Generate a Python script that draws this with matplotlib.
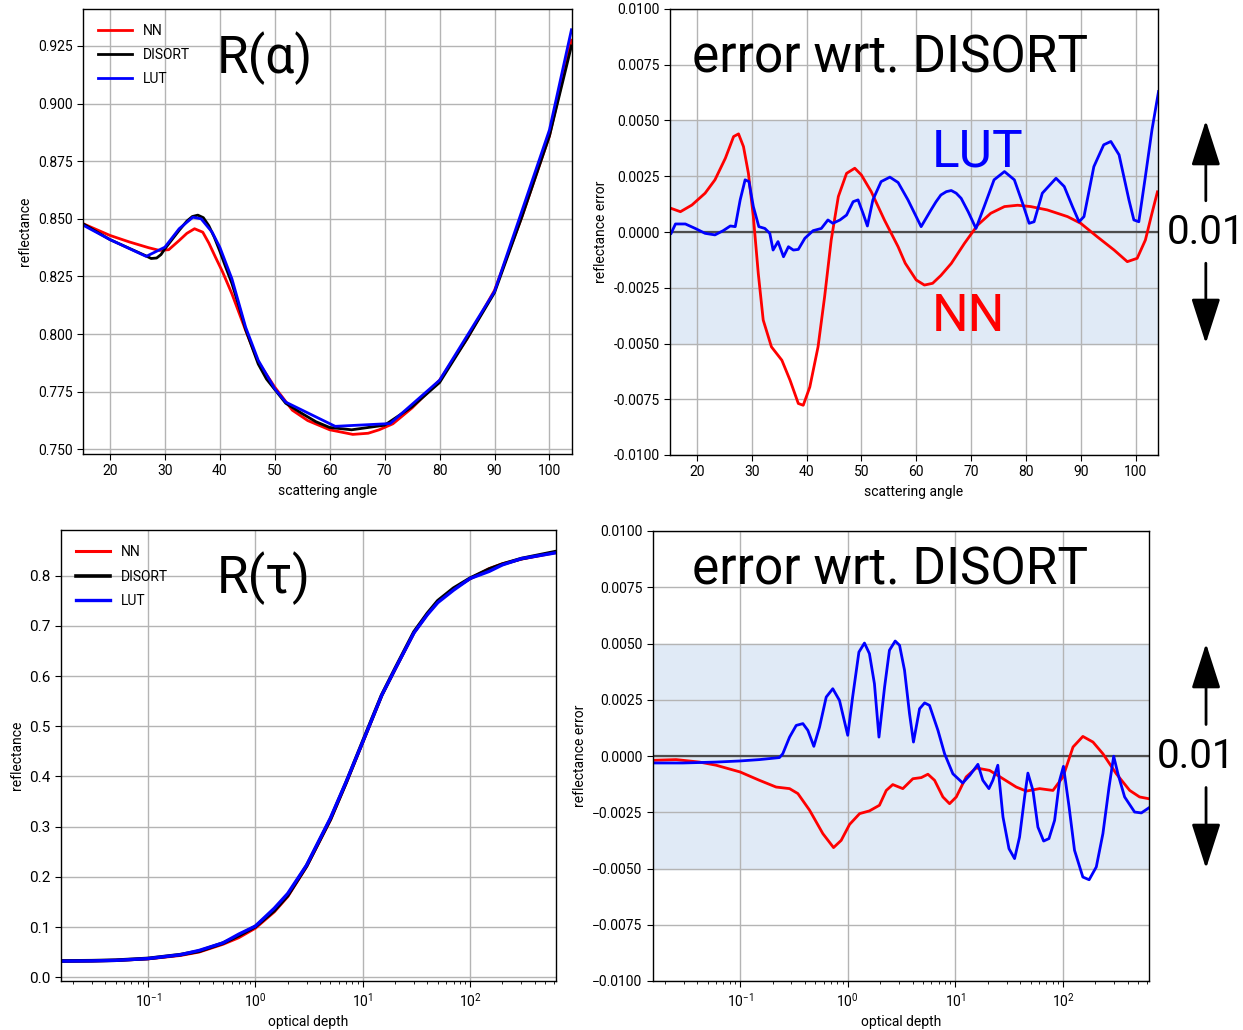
import numpy as np
import matplotlib
matplotlib.use("Agg")
import matplotlib.pyplot as plt
from matplotlib.ticker import FormatStrFormatter, MultipleLocator

plt.rcParams['font.family'] = ['Roboto', 'DejaVu Sans']
plt.rcParams['font.size'] = 10

# --- R(alpha): reflectance vs scattering angle ---
alpha_disort = [15, 20, 26.5, 27.5, 28.5, 29.3, 30, 31.3, 32.6, 34, 35, 36, 37, 38, 39, 40,
                41, 42.2, 43.5, 44.7, 46, 47, 48.5, 50, 52, 55, 57.5, 60, 64, 70, 75, 80, 85,
                90, 95, 100, 104]
r_disort = [0.848, 0.841, 0.834, 0.8328, 0.833, 0.8345, 0.837, 0.841, 0.845, 0.849, 0.851,
            0.8516, 0.8505, 0.847, 0.842, 0.836, 0.8295, 0.822, 0.812, 0.802, 0.7935, 0.787,
            0.7805, 0.776, 0.770, 0.7655, 0.762, 0.7595, 0.7585, 0.7605, 0.7685, 0.779,
            0.798, 0.818, 0.851, 0.886, 0.925]

alpha_nn = [15, 20, 23.5, 27, 29, 30.7, 32.6, 34, 35.4, 36.9, 38, 39.2, 40.5, 42.2, 44.7, 47,
            50, 53.2, 56, 60, 64.2, 67, 69, 71.5, 75, 80, 85, 90, 95, 100, 104]
r_nn = [0.848, 0.8428, 0.840, 0.8375, 0.8363, 0.8366, 0.8406, 0.8437, 0.8457, 0.8442, 0.8395,
        0.8334, 0.827, 0.8175, 0.8016, 0.7879, 0.777, 0.767, 0.7625, 0.7585, 0.7565, 0.757,
        0.7585, 0.7611, 0.768, 0.780, 0.798, 0.819, 0.851, 0.886, 0.9275]

alpha_lut = [15, 20, 26.6, 30, 32.6, 35.1, 36.6, 38.6, 40, 42.2, 44.7, 47, 50, 52, 61, 71,
             80, 90, 100, 104]
r_lut = [0.8474, 0.841, 0.8337, 0.8377, 0.8457, 0.8507, 0.850, 0.8442, 0.8377, 0.824, 0.803,
         0.7886, 0.7763, 0.7705, 0.7600, 0.7612, 0.780, 0.8185, 0.8886, 0.932]

# --- error wrt. DISORT vs scattering angle ---
alpha_err_nn = [15.3, 17, 19.1, 21.5, 23.3, 25.2, 26.7, 27.6, 28.5, 29.4, 30.3, 31.2, 32.1,
                33.6, 35.5, 37, 38.5, 39.4, 40.6, 42.1, 43.3, 44.5, 45.8, 47.3, 48.8, 50,
                51.8, 54.2, 56.7, 58, 60, 61.5, 63, 64.5, 66.4, 68.8, 71.2, 73.6, 76.1, 78.5,
                80.9, 83.9, 87.6, 90, 93, 96.1, 98.5, 100.3, 101.8, 103, 104]
err_alpha_nn = [0.00106, 0.00091, 0.00121, 0.00174, 0.00234, 0.00331, 0.00428, 0.0044,
                0.00383, 0.00263, 0.00069, -0.00186, -0.00395, -0.00515, -0.00575, -0.00665,
                -0.00769, -0.00777, -0.00695, -0.00515, -0.0029, -0.00036, 0.00159, 0.00263,
                0.00286, 0.00256, 0.00181, 0.00054, -0.00066, -0.0014, -0.00215, -0.00238,
                -0.0023, -0.00195, -0.00141, -0.00051, 0.00031, 0.00084, 0.00114, 0.0012,
                0.00114, 0.00099, 0.00069, 0.00039, -0.00021, -0.00081, -0.00133, -0.00118,
                -0.00036, 0.00084, 0.0018]

alpha_err_lut = [15.3, 16.1, 17.9, 19.7, 21.5, 23.3, 24.8, 26.1, 27, 27.9, 28.8, 29.5, 30.3,
                 31.3, 32.4, 33.3, 33.9, 34.8, 35.8, 36.7, 37.6, 38.5, 39.7, 41.2, 42.7, 43.9,
                 44.8, 46.1, 47.3, 48.5, 49.4, 50.3, 51.1, 52.1, 53.6, 55.2, 56.7, 58.5, 60.9,
                 62.7, 63.6, 64.5, 65.5, 66.4, 67.3, 68.2, 69.5, 70.9, 72.4, 74.2, 76.1, 77.9,
                 79.4, 80.6, 81.5, 83, 85.5, 87, 88.5, 89.7, 90.6, 92.4, 94.2, 95.5, 97, 98.8,
                 99.7, 100.6, 101.8, 103, 104.2]
err_alpha_lut = [-0.00006, 0.00036, 0.00036, 0.00016, -0.00006, -0.00013, 0.00006, 0.00027,
                 0.00024, 0.00144, 0.00234, 0.00226, 0.00114, 0.00024, 0.00016, -0.00006,
                 -0.00081, -0.00043, -0.00111, -0.00066, -0.00081, -0.00078, -0.00028,
                 0.00006, 0.00016, 0.00054, 0.00039, 0.00054, 0.00076, 0.00136, 0.00144,
                 0.00084, 0.00027, 0.00144, 0.00226, 0.00246, 0.00222, 0.00144, 0.00024,
                 0.00099, 0.00135, 0.00166, 0.00181, 0.00186, 0.00174, 0.00151, 0.0009,
                 0.00016, 0.00114, 0.00234, 0.00271, 0.00234, 0.00129, 0.00039, 0.00046,
                 0.00174, 0.00241, 0.00204, 0.00114, 0.00046, 0.00069, 0.00293, 0.00391,
                 0.00406, 0.00346, 0.00144, 0.00054, 0.00046, 0.00249, 0.00458, 0.0063]

# --- R(tau): reflectance vs optical depth ---
tau_r = [0.0155, 0.03, 0.05, 0.1, 0.2, 0.3, 0.5, 0.7, 1.0, 1.5, 2, 3, 5, 7, 10, 15, 20, 30,
         40, 50, 70, 100, 150, 200, 300, 630]
r_tau_disort = [0.0325, 0.0330, 0.0340, 0.0375, 0.045, 0.052, 0.068, 0.083, 0.101, 0.133,
                0.163, 0.222, 0.315, 0.388, 0.470, 0.562, 0.615, 0.688, 0.725, 0.750, 0.775,
                0.795, 0.813, 0.823, 0.834, 0.848]
r_tau_nn = [0.0323, 0.0328, 0.0337, 0.0368, 0.0436, 0.0505, 0.0660, 0.0790, 0.0980, 0.1305,
            0.1608, 0.2207, 0.3136, 0.3872, 0.4682, 0.5614, 0.6138, 0.6866, 0.7236, 0.7485,
            0.7736, 0.7942, 0.8138, 0.8236, 0.8332, 0.8462]
r_tau_lut = [0.0322, 0.0327, 0.0337, 0.0373, 0.0449, 0.0535, 0.0685, 0.0858, 0.1019, 0.1374,
             0.1668, 0.2234, 0.3172, 0.3892, 0.4691, 0.5616, 0.6140, 0.6862, 0.7225, 0.7465,
             0.7712, 0.7945, 0.8085, 0.8216, 0.8340, 0.8457]

# --- error wrt. DISORT vs optical depth ---
tau_err_nn = [0.016, 0.0254, 0.0419, 0.0598, 0.1, 0.151, 0.216, 0.288, 0.344, 0.442, 0.587,
              0.738, 0.869, 1.04, 1.29, 1.59, 1.97, 2.28, 2.62, 3.25, 4.03, 4.82, 5.56, 6.41,
              7.66, 8.83, 10.2, 12.6, 15.6, 20.8, 27.7, 36.8, 45.6, 60.7, 80.7, 100, 124, 153,
              190, 235, 313, 417, 515, 630]
err_tau_nn = [-0.00019, -0.00016, -0.00027, -0.00041, -0.00071, -0.00108, -0.00138, -0.00145,
              -0.00167, -0.00241, -0.00345, -0.00407, -0.00375, -0.00304, -0.00256, -0.00244,
              -0.00219, -0.00153, -0.00127, -0.00145, -0.00101, -0.00096, -0.00081, -0.00108,
              -0.00182, -0.00212, -0.00182, -0.00093, -0.00053, -0.00064, -0.00101, -0.00138,
              -0.00156, -0.00145, -0.00153, -0.00093, 0.0004, 0.00087, 0.00062, 0.0001,
              -0.00079, -0.00153, -0.00182, -0.0019]

tau_err_lut = [0.016, 0.0293, 0.0598, 0.1, 0.151, 0.232, 0.249, 0.288, 0.332, 0.383, 0.426,
               0.484, 0.547, 0.631, 0.726, 0.838, 1.0, 1.11, 1.27, 1.43, 1.59, 1.77, 1.95,
               2.20, 2.44, 2.76, 3.03, 3.37, 3.75, 4.08, 4.65, 5.18, 5.75, 6.89, 7.94, 9.48,
               11.7, 13.6, 16.2, 18.0, 20.5, 22.3, 24.8, 27.7, 31.5, 35.5, 39.5, 44.0, 47.2,
               52.6, 58.5, 66.1, 74.1, 83.6, 93.1, 101, 114, 128, 153, 175, 204, 235, 268, 296,
               324, 374, 463, 535, 630]
err_tau_lut = [-0.00031, -0.00031, -0.00027, -0.00022, -0.00016, -0.00007, 0.0001, 0.00084,
               0.00136, 0.00144, 0.00114, 0.00043, 0.00129, 0.00262, 0.00299, 0.00247, 0.00092,
               0.00262, 0.00462, 0.00502, 0.00455, 0.00321, 0.00084, 0.00307, 0.0047, 0.00511,
               0.00492, 0.00381, 0.00188, 0.00062, 0.0021, 0.00236, 0.00225, 0.00114, 0.0001,
               -0.00079, -0.0012, -0.00086, -0.00037, -0.00108, -0.00145, -0.00108, -0.00041,
               -0.00271, -0.00412, -0.00456, -0.0036, -0.00182, -0.00076, -0.00153, -0.00316,
               -0.00378, -0.00367, -0.00286, -0.00108, -0.00046, -0.00227, -0.00419, -0.00538,
               -0.0055, -0.00493, -0.00345, -0.00138, -0.00001, -0.00079, -0.00182, -0.00249,
               -0.00253, -0.0023]

W, H = 1243, 1030
fig = plt.figure(figsize=(W / 100, H / 100), dpi=100)


def px_axes(left, top, right, bottom):
    return fig.add_axes([left / W, 1 - bottom / H, (right - left) / W, (bottom - top) / H])


ax_ra = px_axes(83, 9, 572, 454)
ax_ea = px_axes(670, 9, 1158, 455)
ax_rt = px_axes(61, 530, 556, 981)
ax_et = px_axes(653, 531, 1149, 981)

grid_kw = dict(color='#b4b4b4', linewidth=1.0)
big = dict(fontsize=37, family=['Roboto', 'DejaVu Sans'])

for ax in (ax_ra, ax_ea, ax_rt, ax_et):
    ax.grid(True, **grid_kw)
    ax.set_axisbelow(True)
    ax.tick_params(labelsize=10, length=4)
    for s in ax.spines.values():
        s.set_linewidth(1.0)

# R(alpha)
ax_ra.plot(alpha_nn, r_nn, color='red', lw=2, label='NN')
ax_ra.plot(alpha_disort, r_disort, color='black', lw=2, label='DISORT')
ax_ra.plot(alpha_lut, r_lut, color='blue', lw=2, label='LUT')
ax_ra.set_xlim(15.1, 104.1)
ax_ra.set_ylim(0.748, 0.941)
ax_ra.xaxis.set_major_locator(MultipleLocator(10))
ax_ra.yaxis.set_major_locator(MultipleLocator(0.025))
ax_ra.yaxis.set_major_formatter(FormatStrFormatter('%.3f'))
ax_ra.set_xlabel('scattering angle')
ax_ra.set_ylabel('reflectance')
ax_ra.legend(loc='upper left', frameon=False, handlelength=2.4, handletextpad=0.8,
             labelspacing=0.72, borderaxespad=0.7)
ax_ra.text(0.273, 0.856, 'R(α)', transform=ax_ra.transAxes, va='baseline', **big)

# R(tau)
ax_rt.plot(tau_r, r_tau_nn, color='red', lw=2.2, label='NN')
ax_rt.plot(tau_r, r_tau_disort, color='black', lw=2.6, label='DISORT')
ax_rt.plot(tau_r, r_tau_lut, color='blue', lw=2.4, label='LUT')
ax_rt.set_xscale('log')
ax_rt.set_xlim(0.0155, 630)
ax_rt.set_ylim(-0.0074, 0.891)
ax_rt.yaxis.set_major_locator(MultipleLocator(0.1))
ax_rt.yaxis.set_major_formatter(FormatStrFormatter('%.1f'))
ax_rt.tick_params(axis='y', labelsize=11)
ax_rt.set_xlabel('optical depth')
ax_rt.set_ylabel('reflectance')
ax_rt.legend(loc='upper left', frameon=False, handlelength=2.4, handletextpad=0.8,
             labelspacing=0.75, borderaxespad=0.7)
ax_rt.text(0.315, 0.860, 'R(τ)', transform=ax_rt.transAxes, va='baseline', **big)

# error panels
for ax, xs_nn, ys_nn, xs_lut, ys_lut in ((ax_ea, alpha_err_nn, err_alpha_nn, alpha_err_lut, err_alpha_lut),
                                         (ax_et, tau_err_nn, err_tau_nn, tau_err_lut, err_tau_lut)):
    ax.axhspan(-0.005, 0.005, color='#e0eaf6', zorder=0)
    ax.axhline(0, color='#4d4d4d', lw=1.6, zorder=1)
    ax.plot(xs_nn, ys_nn, color='red', lw=2)
    ax.plot(xs_lut, ys_lut, color='blue', lw=2)
    ax.set_ylim(-0.01, 0.01)
    ax.yaxis.set_major_locator(MultipleLocator(0.0025))
    ax.set_ylabel('reflectance error')

ax_ea.set_xlim(15.1, 104.1)
ax_ea.xaxis.set_major_locator(MultipleLocator(10))
ax_ea.yaxis.set_major_formatter(FormatStrFormatter('%.4f'))
ax_ea.set_xlabel('scattering angle')
ax_ea.text(0.045, 0.857, 'error wrt. DISORT', transform=ax_ea.transAxes, va='baseline', **big)
ax_ea.text(0.537, 0.646, 'LUT', transform=ax_ea.transAxes, va='baseline', color='blue', **big)
ax_ea.text(0.537, 0.278, 'NN', transform=ax_ea.transAxes, va='baseline', color='red', **big)

ax_et.set_xscale('log')
ax_et.set_xlim(0.0155, 630)
ax_et.set_xlabel('optical depth')
ax_et.text(0.079, 0.882, 'error wrt. DISORT', transform=ax_et.transAxes, va='baseline', **big)

# 0.01 scale arrows to the right of the error panels
for ax, xa, xt in ((ax_ea, 1.098, 1.098), (ax_et, 1.115, 1.095)):
    head = dict(arrowstyle='-|>,head_length=1.4,head_width=0.45', color='black', lw=2,
                mutation_scale=20, shrinkA=0, shrinkB=0)
    ax.annotate('', xy=(xa, 0.005), xytext=(xa, 0.0014), xycoords=('axes fraction', 'data'),
                arrowprops=head, annotation_clip=False)
    ax.annotate('', xy=(xa, -0.005), xytext=(xa, -0.0014), xycoords=('axes fraction', 'data'),
                arrowprops=head, annotation_clip=False)
    ax.annotate('0.01', xy=(xt, 0), xycoords=('axes fraction', 'data'), ha='center',
                va='center', fontsize=29, family=['Roboto', 'DejaVu Sans'],
                annotation_clip=False)

fig.savefig('out.png', dpi=100)
